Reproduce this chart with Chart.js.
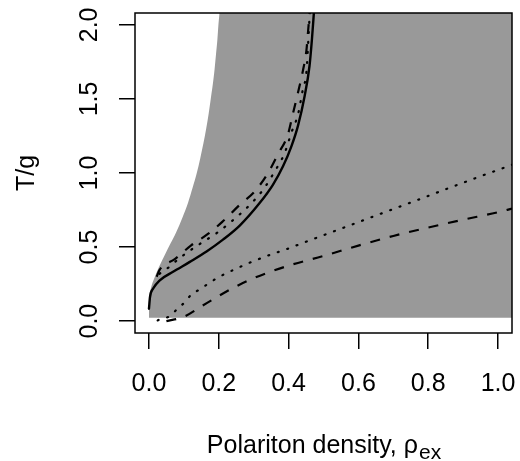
<!DOCTYPE html>
<html>
<head>
<meta charset="utf-8">
<script src="https://cdn.jsdelivr.net/npm/chart.js@4/dist/chart.umd.min.js"></script>
<style>
  html, body { margin: 0; padding: 0; background: #fff; }
  #wrap { width: 520px; height: 461px; }
</style>
</head>
<body>
<div id="wrap"><canvas id="tcChart"></canvas></div>
<script>
// tick labels
const xTicks = [0, 0.2, 0.4, 0.6, 0.8, 1.0];
const yTicks = [0, 0.5, 1.0, 1.5, 2.0];

// shaded region: upper edge of the grey area (rho, T/g)
const shadeRho = [0, 0.0005, 0.003, 0.009, 0.017, 0.029, 0.046, 0.062, 0.078, 0.096, 0.112, 0.125, 0.137, 0.147, 0.156, 0.164, 0.171, 0.177, 0.183, 0.188, 0.192, 0.196, 0.199, 0.202, 0.205, 1.2];
const shadeT   = [0.023, 0.15, 0.2, 0.25, 0.3, 0.367, 0.45, 0.525, 0.6, 0.7, 0.8, 0.9, 1.0, 1.1, 1.2, 1.3, 1.4, 1.5, 1.6, 1.7, 1.8, 1.9, 2.0, 2.08, 2.2, 2.3];
const shadeFloor = 0.023;

// solid curve
const solidRho = [0, 0.003, 0.012, 0.031, 0.069, 0.117, 0.165, 0.212, 0.26, 0.317, 0.355, 0.384, 0.408, 0.427, 0.446, 0.46, 0.467, 0.473];
const solidT   = [0.084, 0.163, 0.22, 0.276, 0.333, 0.4, 0.47, 0.55, 0.645, 0.797, 0.92, 1.045, 1.18, 1.32, 1.52, 1.724, 1.906, 2.1];

// upper dashed curve
const upDashRho = [0.022, 0.03, 0.075, 0.12, 0.17, 0.21, 0.26, 0.303, 0.341, 0.369, 0.398, 0.412, 0.427, 0.441, 0.451, 0.456, 0.461];
const upDashT   = [0.3, 0.345, 0.42, 0.51, 0.59, 0.67, 0.785, 0.876, 1.0, 1.125, 1.26, 1.396, 1.544, 1.69, 1.826, 1.962, 2.1];

// upper dotted curve
const upDotRho = [0.03, 0.046, 0.093, 0.141, 0.193, 0.24, 0.289, 0.327, 0.36, 0.389, 0.408, 0.427, 0.441, 0.451, 0.457, 0.461];
const upDotT   = [0.32, 0.344, 0.435, 0.514, 0.593, 0.68, 0.785, 0.887, 1.01, 1.136, 1.272, 1.396, 1.566, 1.68, 1.917, 2.1];

// lower dotted curve
const lowDotRho = [0.025, 0.031, 0.058, 0.079, 0.103, 0.122, 0.146, 0.174, 0.198, 0.227, 0.255, 0.284, 0.345, 0.392, 0.45, 0.54, 0.621, 0.707, 0.764, 0.85, 0.935, 1.04];
const lowDotT   = [0.005, 0.012, 0.032, 0.077, 0.129, 0.181, 0.215, 0.26, 0.295, 0.329, 0.36, 0.39, 0.446, 0.484, 0.536, 0.615, 0.687, 0.763, 0.813, 0.89, 0.965, 1.055];

// lower dashed curve
const lowDashRho = [0.05, 0.1, 0.15, 0.2, 0.25, 0.3, 0.35, 0.4, 0.5, 0.6, 0.7, 0.8, 0.9, 1.0, 1.04];
const lowDashT   = [0.0, 0.03, 0.1, 0.17, 0.235, 0.29, 0.335, 0.375, 0.44, 0.51, 0.575, 0.632, 0.685, 0.735, 0.76];

const pts = (xs, ys) => xs.map((x, i) => ({ x: x, y: ys[i] }));

const lineSet = (data, dash, width, cap) => ({
    data: data,
    showLine: true,
    fill: false,
    borderColor: "#000",
    borderWidth: width,
    borderDash: dash,
    borderCapStyle: cap,
    pointRadius: 0,
    cubicInterpolationMode: "monotone",
    order: 0
});

const FONT = "'Liberation Sans', Arial, Helvetica, sans-serif";

// draws the box, tick labels and axis titles in R style
const rFrame = {
    id: "rFrame",
    afterDraw(chart) {
        const c = chart.ctx;
        const a = chart.chartArea;
        const xs = chart.scales.x, ys = chart.scales.y;
        c.save();
        c.strokeStyle = "#000";
        c.lineWidth = 1.5;
        c.strokeRect(a.left, a.top, a.right - a.left, a.bottom - a.top);

        c.fillStyle = "#000";
        c.font = "25px " + FONT;
        c.textAlign = "center";
        c.textBaseline = "alphabetic";
        xs.ticks.forEach(t => {
            c.fillText(t.value.toFixed(1), xs.getPixelForValue(t.value), 390.5);
        });
        ys.ticks.forEach(t => {
            c.save();
            c.translate(96.5, ys.getPixelForValue(t.value));
            c.rotate(-Math.PI / 2);
            c.fillText(t.value.toFixed(1), 0, 0);
            c.restore();
        });

        // x title with subscript
        const main = "Polariton density, \u03c1", sub = "ex";
        c.font = "25px " + FONT;
        const wMain = c.measureText(main).width;
        c.font = "21px " + FONT;
        const wSub = c.measureText(sub).width;
        let x0 = (a.left + a.right) / 2 - (wMain + wSub) / 2;
        c.textAlign = "left";
        c.font = "25px " + FONT;
        c.fillText(main, x0, 452.5);
        c.font = "21px " + FONT;
        c.fillText(sub, x0 + wMain + 1, 458.5);

        // y title
        c.font = "25px " + FONT;
        c.textAlign = "center";
        c.save();
        c.translate(33.5, (a.top + a.bottom) / 2);
        c.rotate(-Math.PI / 2);
        c.fillText("T/g", 0, 0);
        c.restore();
        c.restore();
    }
};

const ctx = document.getElementById("tcChart").getContext("2d");
const tcChart = new Chart(ctx, {
    type: "scatter",
    data: {
        datasets: [
            {
                data: pts(shadeRho, shadeT),
                showLine: true,
                fill: { value: shadeFloor },
                backgroundColor: "#999999",
                borderWidth: 0,
                pointRadius: 0,
                cubicInterpolationMode: "monotone",
                order: 5
            },
            lineSet(pts(solidRho, solidT), [], 2.4, "round"),
            lineSet(pts(upDashRho, upDashT), [10, 10], 2.2, "butt"),
            lineSet(pts(upDotRho, upDotT), [1, 9], 2.2, "round"),
            lineSet(pts(lowDotRho, lowDotT), [1, 9], 2.2, "round"),
            lineSet(pts(lowDashRho, lowDashT), [10, 10], 2.2, "butt")
        ]
    },
    options: {
        responsive: true,
        maintainAspectRatio: false,
        animation: false,
        events: [],
        layout: { padding: { top: 13, right: 8, left: 0, bottom: 0 } },
        plugins: {
            legend: { display: false },
            tooltip: { enabled: false }
        },
        scales: {
            x: {
                type: "linear",
                min: -0.04,
                max: 1.04,
                afterBuildTicks: s => { s.ticks = xTicks.map(v => ({ value: v })); },
                afterFit: s => { s.height = 128; },
                ticks: { display: false },
                border: { display: false },
                grid: { drawOnChartArea: false, drawTicks: true, tickLength: 16, color: "#000", lineWidth: 1.5 }
            },
            y: {
                type: "linear",
                min: -0.08,
                max: 2.08,
                afterBuildTicks: s => { s.ticks = yTicks.map(v => ({ value: v })); },
                afterFit: s => { s.width = 135; },
                ticks: { display: false },
                border: { display: false },
                grid: { drawOnChartArea: false, drawTicks: true, tickLength: 16, color: "#000", lineWidth: 1.5 }
            }
        }
    },
    plugins: [rFrame]
});
</script>
</body>
</html>
